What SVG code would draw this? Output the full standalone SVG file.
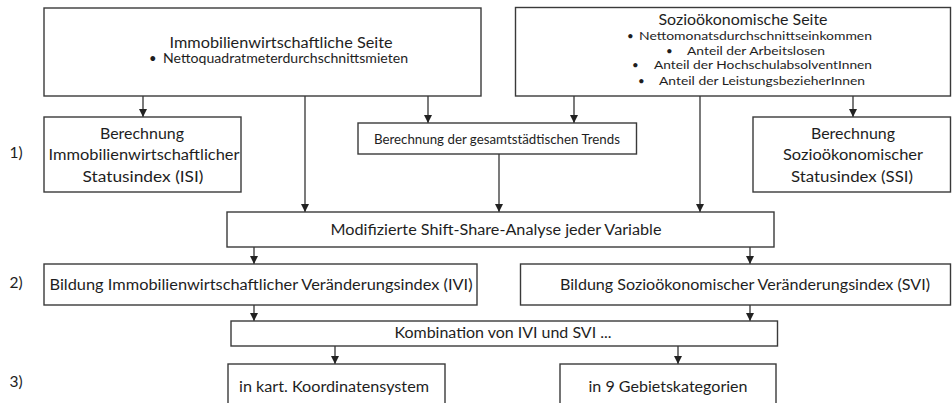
<svg xmlns="http://www.w3.org/2000/svg" width="952" height="403" viewBox="0 0 952 403">
<defs>
<marker id="ah" viewBox="0 0 8 10" refX="8" refY="5" markerWidth="8" markerHeight="10" markerUnits="userSpaceOnUse" orient="auto">
<path d="M0,1 L8,5 L0,9 z" fill="#222"/>
</marker>
<style>
.box{fill:#fff;stroke:#3a3a3a;stroke-width:1.4}
.t{font-family:Lato,"Open Sans","Liberation Sans",sans-serif;fill:#1e1e1e;text-anchor:middle}
.st{text-anchor:start}
.l{font-size:15.5px}
.s{font-size:11.5px}
.m{font-size:13px}
.c{stroke:#222;stroke-width:1.2;fill:none}
.a{marker-end:url(#ah)}
</style>
</defs>
<rect width="952" height="403" fill="#fff"/>

<g id="labels" class="t l">
<text x="16" y="158">1)</text>
<text x="16" y="288">2)</text>
<text x="16" y="387">3)</text>
</g>

<g id="connectors">
<line class="c a" x1="143" y1="96" x2="143" y2="117"/>
<line class="c a" x1="305" y1="96" x2="305" y2="212"/>
<line class="c a" x1="428" y1="96" x2="428" y2="123"/>
<line class="c a" x1="574" y1="96" x2="574" y2="123"/>
<line class="c a" x1="700" y1="96" x2="700" y2="212"/>
<line class="c a" x1="853" y1="96" x2="853" y2="117"/>
<line class="c a" x1="499" y1="154" x2="499" y2="212"/>
<line class="c a" x1="254" y1="247" x2="254" y2="264"/>
<line class="c a" x1="750" y1="247" x2="750" y2="264"/>
<line class="c a" x1="254" y1="305" x2="254" y2="321"/>
<line class="c a" x1="750" y1="305" x2="750" y2="321"/>
<line class="c a" x1="335" y1="346" x2="335" y2="364"/>
<line class="c a" x1="678" y1="346" x2="678" y2="364"/>
</g>

<g id="immo">
<rect class="box" x="44" y="8" width="437" height="88"/>
<text class="t l" x="281" y="48" textLength="223" lengthAdjust="spacingAndGlyphs">Immobilienwirtschaftliche Seite</text>
<text class="t st" x="149" y="63" style="font-size:13px">•</text>
<text class="t st" x="163" y="63" style="font-size:13px" textLength="245" lengthAdjust="spacingAndGlyphs">Nettoquadratmeterdurchschnittsmieten</text>
</g>

<g id="sozio">
<rect class="box" x="515.5" y="7.5" width="435" height="88.5"/>
<text class="t l" x="743" y="25" textLength="169" lengthAdjust="spacingAndGlyphs">Sozioökonomische Seite</text>
<text class="t s st" x="627" y="40">•</text>
<text class="t s st" x="639" y="40" textLength="233" lengthAdjust="spacingAndGlyphs">Nettomonatsdurchschnittseinkommen</text>
<text class="t s st" x="666" y="55">•</text>
<text class="t s st" x="687" y="55" textLength="138" lengthAdjust="spacingAndGlyphs">Anteil der Arbeitslosen</text>
<text class="t s st" x="632" y="69">•</text>
<text class="t s st" x="654" y="69" textLength="218" lengthAdjust="spacingAndGlyphs">Anteil der HochschulabsolventInnen</text>
<text class="t s st" x="638" y="85">•</text>
<text class="t s st" x="659" y="85" textLength="206" lengthAdjust="spacingAndGlyphs">Anteil der LeistungsbezieherInnen</text>
</g>

<g id="isi">
<rect class="box" x="44" y="117" width="197" height="75"/>
<text class="t l" x="142" y="139" textLength="84" lengthAdjust="spacingAndGlyphs">Berechnung</text>
<text class="t l" x="144" y="160" textLength="191" lengthAdjust="spacingAndGlyphs">Immobilienwirtschaftlicher</text>
<text class="t l" x="143" y="182" textLength="121" lengthAdjust="spacingAndGlyphs">Statusindex (ISI)</text>
</g>

<g id="trends">
<rect class="box" x="358" y="123" width="278.5" height="31"/>
<text class="t m" x="497" y="144" textLength="246" lengthAdjust="spacingAndGlyphs">Berechnung der gesamtstädtischen Trends</text>
</g>

<g id="ssi">
<rect class="box" x="753" y="117" width="197.5" height="75"/>
<text class="t l" x="853" y="139" textLength="84" lengthAdjust="spacingAndGlyphs">Berechnung</text>
<text class="t l" x="853" y="160" textLength="140" lengthAdjust="spacingAndGlyphs">Sozioökonomischer</text>
<text class="t l" x="852" y="182" textLength="122" lengthAdjust="spacingAndGlyphs">Statusindex (SSI)</text>
</g>

<g id="shiftshare">
<rect class="box" x="227" y="212" width="547" height="35"/>
<text class="t l" x="496" y="235" textLength="331" lengthAdjust="spacingAndGlyphs">Modifizierte Shift-Share-Analyse jeder Variable</text>
</g>

<g id="ivi">
<rect class="box" x="44" y="264" width="433" height="41"/>
<text class="t l" x="261" y="290" textLength="423" lengthAdjust="spacingAndGlyphs">Bildung Immobilienwirtschaftlicher Veränderungsindex (IVI)</text>
</g>

<g id="svi">
<rect class="box" x="520.5" y="264" width="430" height="41"/>
<text class="t l" x="745" y="290" textLength="370" lengthAdjust="spacingAndGlyphs">Bildung Sozioökonomischer Veränderungsindex (SVI)</text>
</g>

<g id="kombination">
<rect class="box" x="231" y="321" width="546.5" height="25"/>
<text class="t l" x="503" y="338" textLength="217" lengthAdjust="spacingAndGlyphs">Kombination von IVI und SVI ...</text>
</g>

<g id="kart">
<rect class="box" x="228" y="364" width="217" height="50"/>
<text class="t l" x="334" y="392" textLength="190" lengthAdjust="spacingAndGlyphs">in kart. Koordinatensystem</text>
</g>

<g id="gebiet">
<rect class="box" x="560" y="364" width="216" height="50"/>
<text class="t l" x="668" y="392" textLength="159" lengthAdjust="spacingAndGlyphs">in 9 Gebietskategorien</text>
</g>
</svg>
